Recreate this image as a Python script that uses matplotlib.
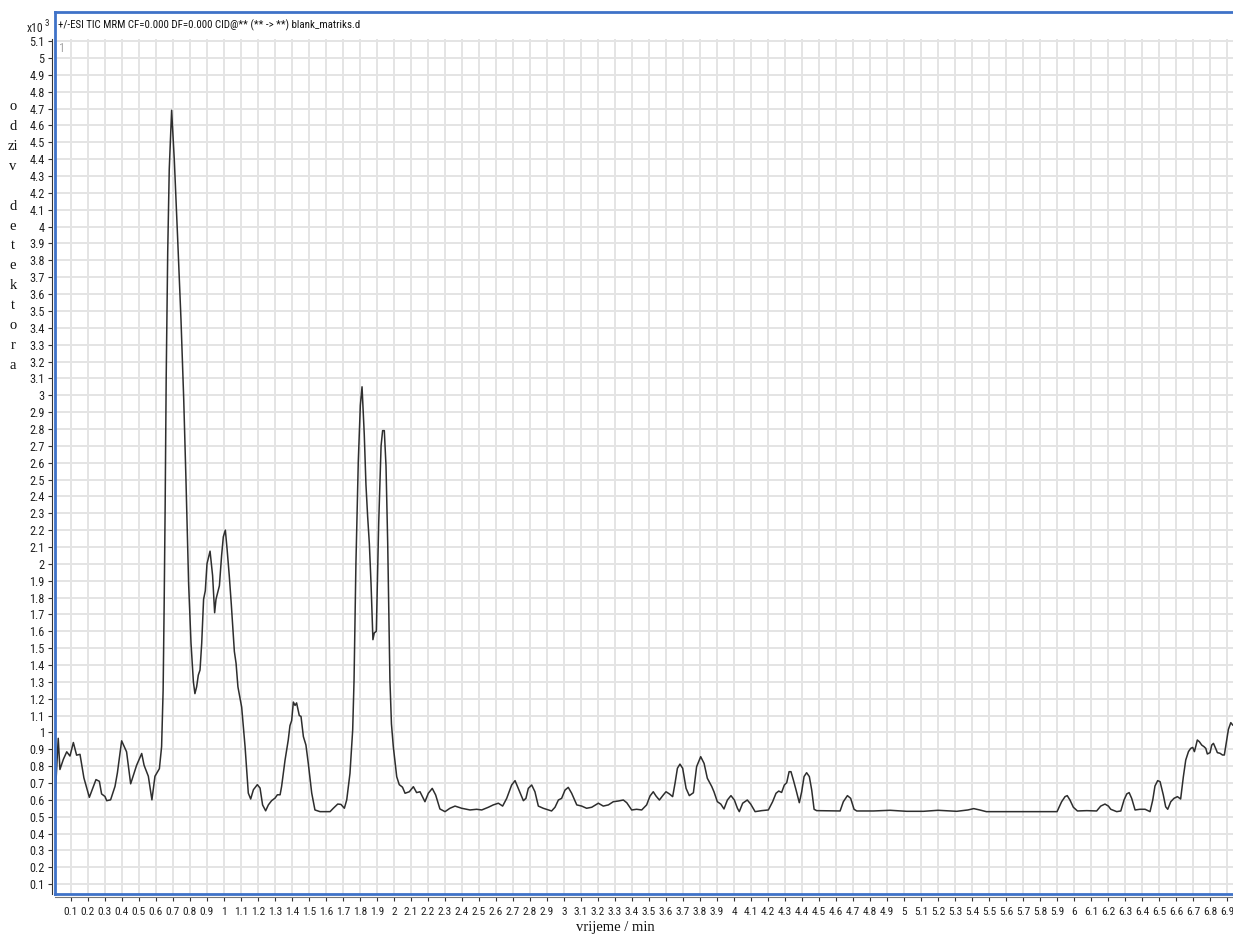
import matplotlib
matplotlib.use("Agg")
import matplotlib.pyplot as plt
from matplotlib import font_manager
from matplotlib.lines import Line2D
from matplotlib.ticker import FuncFormatter, MultipleLocator

# retention time (min) and detector response (x10^3)
time_min = [
    0.006, 0.025, 0.035, 0.055, 0.075, 0.094, 0.114, 0.133, 0.153, 0.176,
    0.208, 0.247, 0.267, 0.28, 0.30, 0.31, 0.333, 0.359, 0.373, 0.398,
    0.427, 0.451, 0.486, 0.516, 0.53, 0.555, 0.576, 0.594, 0.62, 0.633,
    0.642, 0.648, 0.654, 0.66, 0.669, 0.678, 0.692, 0.708, 0.727, 0.747,
    0.763, 0.776, 0.792, 0.806, 0.82, 0.829, 0.839, 0.849, 0.859, 0.869,
    0.88, 0.89, 0.9, 0.918, 0.933, 0.945, 0.953, 0.973, 0.986, 0.996,
    1.008, 1.018, 1.031, 1.043, 1.061, 1.071, 1.082, 1.104, 1.124, 1.143,
    1.157, 1.173, 1.196, 1.212, 1.227, 1.245, 1.261, 1.28, 1.30, 1.314,
    1.33, 1.339, 1.359, 1.378, 1.388, 1.398, 1.408, 1.418, 1.427, 1.443,
    1.453, 1.467, 1.482, 1.496, 1.516, 1.535, 1.565, 1.624, 1.643, 1.669,
    1.688, 1.708, 1.722, 1.741, 1.757, 1.765, 1.776, 1.79, 1.802, 1.812,
    1.825, 1.835, 1.845, 1.855, 1.865, 1.876, 1.884, 1.896, 1.91, 1.924,
    1.933, 1.943, 1.953, 1.963, 1.968, 1.976, 1.985, 1.996, 2.016, 2.031,
    2.05, 2.065, 2.09, 2.114, 2.133, 2.153, 2.182, 2.202, 2.225, 2.245,
    2.27, 2.30, 2.329, 2.359, 2.398, 2.447, 2.486, 2.516, 2.555, 2.584,
    2.614, 2.639, 2.663, 2.692, 2.712, 2.731, 2.761, 2.776, 2.79, 2.81,
    2.829, 2.849, 2.878, 2.927, 2.947, 2.967, 2.986, 3.006, 3.025, 3.045,
    3.075, 3.104, 3.133, 3.163, 3.202, 3.231, 3.261, 3.29, 3.319, 3.349,
    3.369, 3.398, 3.427, 3.457, 3.486, 3.506, 3.525, 3.541, 3.561, 3.584,
    3.60, 3.62, 3.639, 3.653, 3.667, 3.682, 3.698, 3.718, 3.737, 3.761,
    3.78, 3.804, 3.824, 3.843, 3.869, 3.882, 3.902, 3.922, 3.941, 3.961,
    3.982, 4.002, 4.02, 4.031, 4.051, 4.078, 4.098, 4.124, 4.163, 4.202,
    4.227, 4.247, 4.263, 4.28, 4.296, 4.31, 4.324, 4.335, 4.349, 4.365,
    4.384, 4.398, 4.412, 4.427, 4.443, 4.457, 4.471, 4.486, 4.624, 4.643,
    4.667, 4.686, 4.706, 4.722, 4.82, 4.918, 5.016, 5.114, 5.20, 5.31,
    5.376, 5.41, 5.445, 5.484, 5.643, 5.90, 5.927, 5.947, 5.96, 5.976,
    5.996, 6.02, 6.075, 6.133, 6.157, 6.182, 6.202, 6.216, 6.251, 6.275,
    6.294, 6.31, 6.324, 6.339, 6.359, 6.388, 6.418, 6.447, 6.463, 6.476,
    6.492, 6.506, 6.525, 6.539, 6.551, 6.569, 6.588, 6.608, 6.627, 6.643,
    6.657, 6.673, 6.686, 6.698, 6.708, 6.718, 6.725, 6.737, 6.751, 6.765,
    6.775, 6.784, 6.80, 6.81, 6.82, 6.833, 6.843, 6.859, 6.873, 6.884,
    6.898, 6.908, 6.922, 6.933,
]
response = [
    0.60, 0.965, 0.78, 0.84, 0.885, 0.86, 0.94, 0.865, 0.87, 0.73,
    0.615, 0.72, 0.71, 0.635, 0.62, 0.595, 0.60, 0.68, 0.76, 0.95,
    0.885, 0.695, 0.805, 0.875, 0.805, 0.74, 0.60, 0.74, 0.785, 0.915,
    1.25, 1.75, 2.35, 3.1, 3.85, 4.34, 4.69, 4.39, 3.94, 3.45,
    2.98, 2.51, 1.88, 1.53, 1.30, 1.23, 1.27, 1.34, 1.37, 1.53,
    1.79, 1.84, 2.0, 2.075, 1.93, 1.71, 1.79, 1.87, 2.05, 2.16,
    2.20, 2.09, 1.93, 1.76, 1.48, 1.41, 1.27, 1.15, 0.915, 0.64,
    0.605, 0.66, 0.69, 0.67, 0.57, 0.535, 0.57, 0.595, 0.61, 0.63,
    0.63, 0.68, 0.835, 0.955, 1.04, 1.07, 1.18, 1.16, 1.175, 1.10,
    1.095, 0.975, 0.925, 0.815, 0.64, 0.54, 0.53, 0.53, 0.55, 0.575,
    0.573, 0.55, 0.60, 0.757, 1.015, 1.31, 2.0, 2.61, 2.94, 3.05,
    2.77, 2.47, 2.28, 2.12, 1.88, 1.55, 1.59, 1.60, 2.24, 2.70,
    2.79, 2.79, 2.58, 2.12, 1.8, 1.31, 1.05, 0.915, 0.737, 0.69,
    0.675, 0.639, 0.648, 0.678, 0.643, 0.648, 0.589, 0.639, 0.668, 0.629,
    0.546, 0.53, 0.55, 0.563, 0.55, 0.54, 0.544, 0.54, 0.556, 0.57,
    0.58, 0.563, 0.609, 0.688, 0.714, 0.668, 0.595, 0.609, 0.668, 0.688,
    0.648, 0.563, 0.55, 0.534, 0.556, 0.599, 0.609, 0.658, 0.674, 0.639,
    0.57, 0.563, 0.55, 0.556, 0.58, 0.563, 0.57, 0.589, 0.593, 0.599,
    0.583, 0.54, 0.544, 0.54, 0.57, 0.623, 0.648, 0.623, 0.599, 0.629,
    0.648, 0.635, 0.619, 0.698, 0.787, 0.812, 0.787, 0.668, 0.625, 0.642,
    0.797, 0.856, 0.816, 0.728, 0.679, 0.648, 0.589, 0.575, 0.546, 0.599,
    0.625, 0.599, 0.55, 0.53, 0.58, 0.599, 0.575, 0.53, 0.536, 0.54,
    0.589, 0.639, 0.652, 0.644, 0.688, 0.702, 0.767, 0.767, 0.718, 0.658,
    0.583, 0.648, 0.738, 0.761, 0.738, 0.658, 0.544, 0.536, 0.534, 0.589,
    0.625, 0.609, 0.544, 0.534, 0.534, 0.538, 0.532, 0.532, 0.538, 0.532,
    0.54, 0.548, 0.54, 0.53, 0.53, 0.53, 0.589, 0.619, 0.625, 0.599,
    0.556, 0.534, 0.536, 0.534, 0.563, 0.575, 0.563, 0.544, 0.53, 0.534,
    0.599, 0.635, 0.643, 0.609, 0.54, 0.544, 0.544, 0.53, 0.599, 0.682,
    0.714, 0.708, 0.629, 0.559, 0.544, 0.589, 0.609, 0.619, 0.605, 0.737,
    0.836, 0.886, 0.905, 0.911, 0.886, 0.925, 0.955, 0.945, 0.925, 0.915,
    0.905, 0.872, 0.88, 0.925, 0.935, 0.905, 0.88, 0.876, 0.866, 0.866,
    0.955, 1.018, 1.058, 1.044,
]

title_text = "+/-ESI TIC MRM CF=0.000 DF=0.000 CID@** (** -> **) blank_matriks.d"
x_label = "vrijeme / min"
y_label = "o\nd\nzi\nv\n\nd\ne\nt\ne\nk\nt\no\nr\na"


def _pick_narrow():
    # use a condensed sans if one is installed, else fall back to Liberation Sans
    for name in ["Liberation Sans Narrow", "Arial Narrow", "Roboto Condensed",
                 "Open Sans Condensed", "Noto Sans Condensed"]:
        try:
            font_manager.findfont(name, fallback_to_default=False)
            return name, True
        except ValueError:
            continue
    return "Liberation Sans", False


narrow_name, is_narrow = _pick_narrow()
sans = [narrow_name, "DejaVu Sans"]
serif = ["Liberation Serif", "DejaVu Serif"]
frame_blue = "#3f72c8"

if is_narrow:
    xtick_size, ytick_size, title_size = 8.2, 8.8, 7.8
else:
    xtick_size, ytick_size, title_size = 7.8, 8.5, 7.0

W, H = 1233, 936
fig = plt.figure(figsize=(W / 100, H / 100), dpi=100)
fig.patch.set_facecolor("white")

# grid area in pixels
left_px, right_px, top_px, bottom_px = 55, 1233, 39, 894
ax = fig.add_axes([left_px / W, 1 - bottom_px / H,
                   (right_px - left_px) / W, (bottom_px - top_px) / H])

ax.plot(time_min, response, color="#2e2e2e", linewidth=1.1, zorder=3)

ax.set_xlim(0.006, 6.935)
ax.set_ylim(0.0415, 5.113)

ax.xaxis.set_major_locator(MultipleLocator(0.1))
ax.yaxis.set_major_locator(MultipleLocator(0.1))
fmt = FuncFormatter(lambda v, pos: f"{round(v, 1):g}")
ax.xaxis.set_major_formatter(fmt)
ax.yaxis.set_major_formatter(fmt)

ax.grid(True, color="#e4e4e4", linewidth=1.4, zorder=0)
ax.set_axisbelow(True)

for side in ["top", "right"]:
    ax.spines[side].set_visible(False)
ax.spines["left"].set_position(("outward", 2.5))
ax.spines["bottom"].set_position(("outward", 2.5))
ax.spines["left"].set_color("#333333")
ax.spines["bottom"].set_color("#777777")

ax.tick_params(axis="both", length=3, width=0.8, color="#333333",
               labelcolor="#222222", pad=2)
ax.tick_params(axis="x", labelsize=xtick_size, pad=4)
ax.tick_params(axis="y", labelsize=ytick_size)
for lab in ax.get_xticklabels() + ax.get_yticklabels():
    lab.set_family(sans)

ax.text(0.003, 0.997, "1", transform=ax.transAxes, ha="left", va="top",
        fontsize=9, color="#aaaaaa", family=sans)

# blue frame around plot and title strip
fx0 = left_px / W
fy_top = 1 - 12 / H
fy_bot = 1 - 894 / H
for xs, ys in [([fx0, 1.0], [fy_top, fy_top]),
               ([fx0, 1.0], [fy_bot, fy_bot]),
               ([fx0, fx0], [fy_bot, fy_top])]:
    fig.add_artist(Line2D(xs, ys, color=frame_blue, linewidth=2.0,
                          transform=fig.transFigure))

fig.text(58 / W, 1 - 25 / H, title_text, ha="left", va="center",
         fontsize=title_size, color="#111111", family=sans)
fig.text(43 / W, 1 - 29 / H, "x10", ha="right", va="center",
         fontsize=8.5, color="#222222", family=sans)
fig.text(45 / W, 1 - 24 / H, "3", ha="left", va="center",
         fontsize=6.5, color="#222222", family=sans)

fig.text(615 / W, 1 - 928 / H, x_label, ha="center", va="center",
         fontsize=10.5, family=serif, color="#111111")
fig.text(13 / W, 1 - 236 / H, y_label, ha="center", va="center",
         fontsize=10.5, family=serif, color="#111111", linespacing=1.69)

fig.savefig("out.png", dpi=100, facecolor="white")
